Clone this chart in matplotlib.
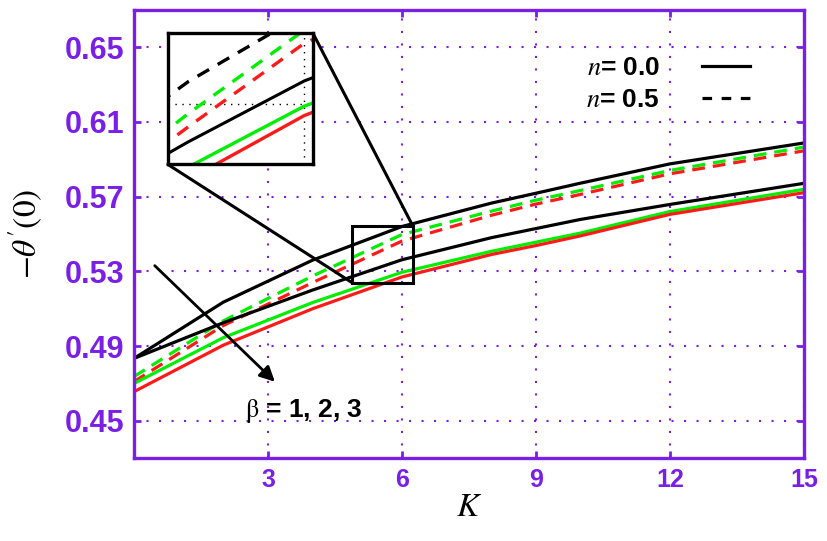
import numpy as np
import matplotlib
matplotlib.use("Agg")
from matplotlib import pyplot as plt
from matplotlib.patches import Rectangle, ConnectionPatch
from matplotlib.lines import Line2D

plt.rcParams['mathtext.fontset'] = 'stix'
plt.rcParams['font.family'] = ['Liberation Sans', 'DejaVu Sans']

# K grid and -theta'(0) values
K = [0, 2, 4, 6, 8, 9, 10, 12, 15]
n0_b1 = [0.4834, 0.5025, 0.5200, 0.5362, 0.5480, 0.5529, 0.5578, 0.5658, 0.5771]
n0_b2 = [0.4700, 0.4945, 0.5133, 0.5295, 0.5407, 0.5456, 0.5505, 0.5620, 0.5739]
n0_b3 = [0.4656, 0.4905, 0.5100, 0.5270, 0.5390, 0.5438, 0.5490, 0.5605, 0.5721]
n05_b1 = [0.4834, 0.5135, 0.5360, 0.5540, 0.5665, 0.5718, 0.5772, 0.5875, 0.5987]
n05_b2 = [0.4737, 0.5035, 0.5275, 0.5497, 0.5622, 0.5681, 0.5733, 0.5840, 0.5965]
n05_b3 = [0.4710, 0.5010, 0.5240, 0.5462, 0.5600, 0.5660, 0.5712, 0.5822, 0.5945]

xticks = [3, 6, 9, 12, 15]
yticks = [0.45, 0.49, 0.53, 0.57, 0.61, 0.65]

purple = '#7a1fe6'
green = '#00ee00'
red = '#ff1a1a'

fig = plt.figure(figsize=(8.27, 5.41), dpi=100)
ax = fig.add_axes([0.162, 0.153, 0.810, 0.829])

# main curves (upper black drawn solid as in the picture)
ax.plot(K, n05_b1, color='k', lw=2.3)
ax.plot(K, n05_b2, color=green, lw=2.3, ls=(0, (4, 2.5)))
ax.plot(K, n05_b3, color=red, lw=2.3, ls=(0, (4, 2.5)))
ax.plot(K, n0_b1, color='k', lw=2.3)
ax.plot(K, n0_b2, color=green, lw=2.3)
ax.plot(K, n0_b3, color=red, lw=2.3)

ax.set_xlim(0, 15)
ax.set_ylim(0.43, 0.67)
ax.set_xticks(xticks)
ax.set_yticks(yticks)
ax.set_xticklabels([str(t) for t in xticks], fontsize=18, fontweight='bold', color=purple)
ax.set_yticklabels(['%.2f' % t for t in yticks], fontsize=22, fontweight='bold', color=purple)
ax.tick_params(direction='in', length=5, width=2, color=purple, top=True, right=True, pad=7)
for s in ax.spines.values():
    s.set_color(purple)
    s.set_linewidth(2.4)
ax.grid(True, color=purple, ls=(0, (1, 5)), lw=1.5)

ax.set_xlabel(r'$K$', fontsize=24, labelpad=0)
ax.set_ylabel(r"$-\theta^{\prime}(0)$", fontsize=24, labelpad=14)

# legend
h0 = Line2D([], [], color='k', lw=2.3)
h5 = Line2D([], [], color='k', lw=2.3, ls=(0, (3, 3)))
leg = ax.legend([h0, h5], [r'$n$= 0.0', r'$n$= 0.5'], loc='upper right',
                bbox_to_anchor=(0.955, 0.95), frameon=False, markerfirst=False,
                prop={'weight': 'bold', 'size': 19}, handlelength=1.8, handletextpad=1.6,
                labelspacing=0.3)

# zoom box
bx0, bx1, by0, by1 = 4.88, 6.24, 0.524, 0.5545
ax.add_patch(Rectangle((bx0, by0), bx1 - bx0, by1 - by0, fill=False, ec='k', lw=2.2, zorder=5))

# arrow and beta label
ax.annotate('', xy=(3.2, 0.4699), xytext=(0.42, 0.5341),
            arrowprops=dict(arrowstyle='-|>,head_length=0.9,head_width=0.45', color='k', lw=2))
ax.text(3.8, 0.4555, r'$\mathrm{\beta}$' + ' = 1, 2, 3', fontsize=19, fontweight='bold',
        ha='center', va='center')

# inset
ins = ax.inset_axes([0.76, 0.5872, 4.01 - 0.76, 0.6573 - 0.5872], transform=ax.transData)
ins.plot(K, n05_b1, color='k', lw=2.4, ls=(0, (4, 3)))
ins.plot(K, n05_b2, color=green, lw=2.4, ls=(0, (4, 3)))
ins.plot(K, n05_b3, color=red, lw=2.4, ls=(0, (4, 3)))
ins.plot(K, n0_b1, color='k', lw=2.2)
ins.plot(K, n0_b2, color=green, lw=2.4)
ins.plot(K, n0_b3, color=red, lw=2.4)
ins.set_xlim(3.65, 6.15)
ins.set_ylim(0.514, 0.5488)
ins.set_xticks([6])
ins.set_yticks([0.53])
ins.tick_params(length=0, labelbottom=False, labelleft=False)
ins.grid(True, color='k', ls=(0, (1, 4)), lw=1)
for s in ins.spines.values():
    s.set_linewidth(2.4)
ins.set_zorder(6)

for xa, xb in [((1, 1), (bx1, by1)), ((0, 0), (bx0, by0))]:
    con = ConnectionPatch(xyA=xa, coordsA=ins.transAxes, xyB=xb, coordsB=ax.transData,
                          color='k', lw=2.2)
    fig.add_artist(con)

fig.savefig('out.png', dpi=100)
